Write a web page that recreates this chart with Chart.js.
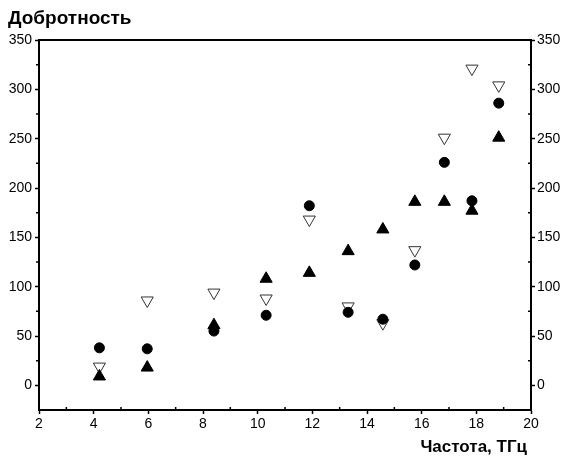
<!DOCTYPE html>
<html>
<head>
<meta charset="utf-8">
<script src="https://cdn.jsdelivr.net/npm/chart.js@4.4.1/dist/chart.umd.min.js"></script>
<style>
  html, body { margin: 0; padding: 0; background: #fff; }
  #wrap { width: 562px; height: 459px; }
</style>
</head>
<body>
<div id="wrap"><canvas id="myChart" width="562" height="459"></canvas></div>
<script>
// frequency, THz
const freq = [4.21, 5.96, 8.40, 10.31, 11.89, 13.31, 14.58, 15.75, 16.83, 17.84, 18.82]
// quality factor of three series
const qCircle = [38, 37, 55, 71, 182, 74, 67, 122, 226, 187, 286]
const qTriUp = [9, 18, 61, 108, 114, 136, 158, 186, 186, 177, 251]
const qTriDown = [19, 86, 94, 88, 168, 80, 63, 137, 251, 321, 304]

const xTicks = [2, 4, 6, 8, 10, 12, 14, 16, 18, 20]
const xMinor = [3, 5, 7, 9, 11, 13, 15, 17, 19]
const yTicks = [0, 50, 100, 150, 200, 250, 300, 350]
const yMinor = [25, 75, 125, 175, 225, 275, 325]

const yTitle = 'Добротность'
const xTitle = 'Частота, ТГц'

const toPoints = ys => freq.map((f, i) => ({ x: f, y: ys[i] }))
const font = 'Liberation Sans, Arial, sans-serif'

// frame top line, minor ticks and axis titles
const framePlugin = {
  id: 'frame',
  afterDraw (chart) {
    const { ctx, chartArea } = chart
    const sx = chart.scales.x
    const sy = chart.scales.y
    ctx.save()
    ctx.strokeStyle = '#000'
    ctx.lineWidth = 2
    ctx.beginPath()
    ctx.moveTo(chartArea.left - 1, chartArea.top)
    ctx.lineTo(chartArea.right + 1, chartArea.top)
    ctx.stroke()

    ctx.lineWidth = 1.5
    ctx.beginPath()
    xMinor.forEach(v => {
      const px = sx.getPixelForValue(v)
      ctx.moveTo(px, chartArea.bottom)
      ctx.lineTo(px, chartArea.bottom - 3)
    })
    yMinor.forEach(v => {
      const py = sy.getPixelForValue(v)
      ctx.moveTo(chartArea.left, py)
      ctx.lineTo(chartArea.left - 3, py)
      ctx.moveTo(chartArea.right, py)
      ctx.lineTo(chartArea.right - 3, py)
    })
    ctx.stroke()

    ctx.fillStyle = '#000'
    ctx.font = 'bold 19px ' + font
    ctx.textBaseline = 'alphabetic'
    ctx.textAlign = 'left'
    ctx.fillText(yTitle, 8, 24)
    ctx.font = 'bold 17px ' + font
    ctx.textAlign = 'right'
    ctx.fillText(xTitle, 527, 452)
    ctx.restore()
  }
}

const axisCommon = {
  type: 'linear',
  border: { display: true, color: '#000', width: 2 },
  grid: { drawOnChartArea: false, drawTicks: true, tickLength: 4, tickColor: '#000', tickWidth: 1.5 },
  ticks: { color: '#000', font: { family: font, size: 14 } }
}

const config = {
  type: 'scatter',
  data: {
    datasets: [
      {
        label: 'circles',
        data: toPoints(qCircle),
        pointStyle: 'circle',
        pointRadius: 5,
        backgroundColor: '#000',
        borderColor: '#000',
        borderWidth: 1
      },
      {
        label: 'triangles up',
        data: toPoints(qTriUp),
        pointStyle: 'triangle',
        pointRadius: 7,
        backgroundColor: '#000',
        borderColor: '#000',
        borderWidth: 1
      },
      {
        label: 'triangles down',
        data: toPoints(qTriDown),
        pointStyle: 'triangle',
        pointRotation: 180,
        pointRadius: 7,
        backgroundColor: '#fff',
        borderColor: '#333',
        borderWidth: 1
      }
    ]
  },
  options: {
    responsive: false,
    animation: false,
    layout: { padding: { top: 40, left: 0, right: 0, bottom: 0 } },
    scales: {
      x: {
        ...axisCommon,
        position: 'bottom',
        min: 2,
        max: 20,
        ticks: { ...axisCommon.ticks, padding: 2 },
        afterBuildTicks: s => { s.ticks = xTicks.map(v => ({ value: v })) },
        afterFit: s => { s.height = 49 }
      },
      y: {
        ...axisCommon,
        position: 'left',
        min: -25,
        max: 350,
        ticks: { ...axisCommon.ticks, padding: 3 },
        afterBuildTicks: s => { s.ticks = yTicks.map(v => ({ value: v })) },
        afterFit: s => { s.width = 39 }
      },
      y2: {
        ...axisCommon,
        position: 'right',
        min: -25,
        max: 350,
        ticks: { ...axisCommon.ticks, padding: 2 },
        afterBuildTicks: s => { s.ticks = yTicks.map(v => ({ value: v })) },
        afterFit: s => { s.width = 31 }
      }
    },
    plugins: {
      legend: { display: false },
      tooltip: { enabled: false }
    }
  },
  plugins: [framePlugin]
}

const myChart = new Chart(document.getElementById('myChart').getContext('2d'), config)
</script>
</body>
</html>
